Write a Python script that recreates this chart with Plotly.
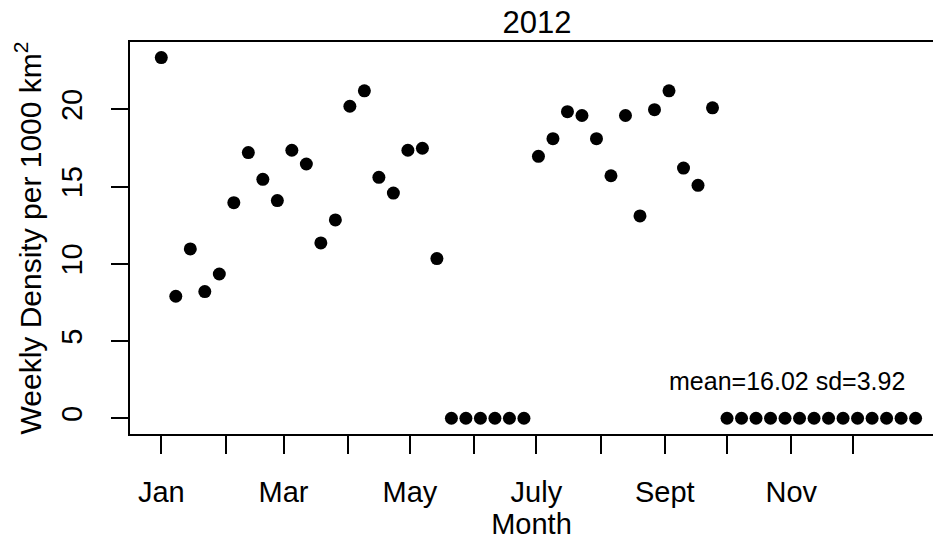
import plotly.graph_objects as go

# Day of year for each weekly survey (2012)
week_day = [1, 8, 15, 22, 29, 36, 43, 50, 57, 64, 71, 78, 85, 92, 99, 106, 113,
            120, 127, 134, 141, 148, 155, 162, 169, 176, 183, 190, 197, 204, 211,
            218, 225, 232, 239, 246, 253, 260, 267, 274, 281, 288, 295, 302, 309,
            316, 323, 330, 337, 344, 351, 358, 365]

# Weekly density per 1000 km^2
density = [23.35, 7.9, 10.96, 8.2, 9.34, 13.96, 17.2, 15.47, 14.09, 17.35,
           16.46, 11.35, 12.84, 20.2, 21.2, 15.6, 14.58, 17.35, 17.48, 10.34,
           0, 0, 0, 0, 0, 0,
           16.96, 18.1, 19.85, 19.6, 18.1, 15.7, 19.6, 13.1, 19.98, 21.2,
           16.2, 15.08, 20.1,
           0, 0, 0, 0, 0, 0, 0, 0, 0, 0, 0, 0, 0, 0]

# Month boundaries (day of year): labelled months and the unlabelled ones between
labelled_start = [1, 60, 121, 182, 244, 305]
labelled_name = ["Jan", "Mar", "May", "July", "Sept", "Nov"]
unlabelled_start = [32, 91, 152, 213, 274, 335]

y_ticks = [0, 5, 10, 15, 20]
summary_text = "mean=16.02 sd=3.92"
title_text = "2012"

FONT = "Liberation Sans, Arial, sans-serif"

fig = go.Figure()
fig.add_trace(go.Scatter(
    x=week_day, y=density, mode="markers",
    marker=dict(color="black", size=13, line=dict(width=0)),
    hoverinfo="x+y", showlegend=False,
))

# Summary statistics placed in the lower-right corner, above the zero row
fig.add_annotation(
    x=303, y=2.4, xref="x", yref="y", text=summary_text, showarrow=False,
    font=dict(family=FONT, size=25, color="black"), xanchor="center", yanchor="middle",
)

fig.update_layout(
    width=933, height=540,
    margin=dict(l=130, r=0, t=42, b=106),
    plot_bgcolor="white", paper_bgcolor="white",
    font=dict(family=FONT, color="black"),
    title=dict(text=title_text, x=537 / 933, xanchor="center", y=1 - 22 / 540,
               yanchor="middle", xref="container", yref="container",
               font=dict(family=FONT, size=31, color="black")),
    xaxis=dict(
        range=[-14.1, 373.4], tickmode="array", tickvals=labelled_start,
        ticktext=labelled_name, ticks="outside", ticklen=18, tickwidth=2,
        tickcolor="black", showline=True, linecolor="black", linewidth=2,
        mirror=True, showgrid=False, zeroline=False,
        minor=dict(tickmode="array", tickvals=unlabelled_start, ticks="outside",
                   ticklen=18, tickwidth=2, tickcolor="black", showgrid=False),
        tickfont=dict(family=FONT, size=29, color="black"),
        ticklabelstandoff=13,
        title=dict(text="Month", font=dict(family=FONT, size=29, color="black"),
                   standoff=0),
    ),
    yaxis=dict(
        range=[-1.02, 24.36], tickmode="array", tickvals=y_ticks,
        ticks="outside", ticklen=17, tickwidth=2, tickcolor="black",
        showline=True, linecolor="black", linewidth=2, mirror=False,
        showgrid=False, zeroline=False, tickangle=-90,
        tickfont=dict(family=FONT, size=29, color="black"),
        ticklabelstandoff=17,
        title=dict(text="Weekly Density per 1000 km<sup>2</sup>",
                   font=dict(family=FONT, size=30, color="black"), standoff=6),
    ),
)

fig.write_html("out.html")
